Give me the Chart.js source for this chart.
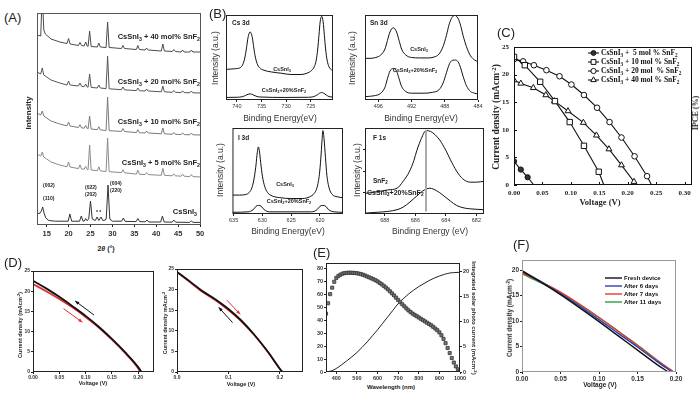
<!DOCTYPE html>
<html>
<head>
<meta charset="utf-8">
<title>CsSnI3 + SnF2</title>
<script src="https://cdn.jsdelivr.net/npm/chart.js@4.4.1/dist/chart.umd.min.js"></script>
<style>
  html, body { margin: 0; padding: 0; background: #fff; }
  body { position: relative; width: 700px; height: 395px; overflow: hidden; font-family: "Liberation Sans", Arial, sans-serif; color: #222; }
  canvas { position: absolute; }
  .t { position: absolute; white-space: nowrap; line-height: 1; }
  .t sub { font-size: 70%; vertical-align: -0.3em; line-height: 0; }
  .t sup { font-size: 70%; vertical-align: 0.5em; line-height: 0; }
  .serif { font-family: "Liberation Serif", "Times New Roman", serif; font-weight: bold; }
</style>
</head>
<body>
<script>
// ---------- (A) XRD ----------
const xrdTicks = [15, 20, 25, 30, 35, 40, 45, 50];
const xrdTickLabels = ['15', '20', '25', '30', '35', '40', '45', '50'];
const xrdNames = ['CsSnI_3 + 40 mol% SnF_2', 'CsSnI_3 + 20 mol% SnF_2', 'CsSnI_3 + 10 mol% SnF_2', 'CsSnI_3 + 5 mol% SnF_2', 'CsSnI_3'];
const xrd40 = [[12.8,190],[13.65,189],[14.0,232],[14.35,195],[14.7,191],[16,186],[18,183],
  [19.65,181.5],[20.0,186.5],[20.35,181],[22.25,179.5],[22.6,182.5],[22.95,179.5],
  [23.55,179],[23.9,183],[24.25,179],[24.45,178.5],[24.8,194],[25.15,178.5],
  [26.55,178],[26.9,182],[27.25,178],[28.55,177.5],[28.9,203],[29.25,177.5],
  [32.05,176.5],[32.4,179.5],[32.75,176.5],[35.45,175.5],[35.8,179.5],[36.15,175.5],
  [37.45,175],[37.8,177],[38.15,175],[41.15,174],[41.5,181],[41.85,174],
  [43.65,173.5],[44.0,175.5],[44.35,173.5],[45.65,173],[46.0,175],[46.35,173],
  [47.65,173],[48.0,175],[48.35,173],[50.2,173]];
const xrd20 = [[12.8,153],[13.65,151],[14.0,157],[14.35,150],[15,148],[16,145],[18,142],
  [19.65,140],[20.0,144],[20.35,140],[22.25,139],[22.6,142],[22.95,138.8],
  [23.55,138.3],[23.9,141],[24.25,138],[24.45,137.8],[24.8,151],[25.15,137.6],
  [26.55,137],[26.9,140],[27.25,137],[28.55,136.4],[28.9,169],[29.25,136.2],
  [32.05,135.3],[32.4,138],[32.75,135.2],[35.45,134.4],[35.8,137],[36.15,134.3],
  [37.45,134],[37.8,136],[38.15,134],[41.15,133.2],[41.5,139],[41.85,133.2],
  [43.65,132.7],[44.0,134.5],[44.35,132.7],[45.65,132.4],[46.0,134.2],[46.35,132.4],
  [47.65,132.2],[48.0,134],[48.35,132.2],[50.2,132]];
const xrd10 = [[12.8,112],[13.65,110],[14.0,114],[14.35,109],[15,107],[16,104],[18,101],
  [19.65,99.2],[20.0,103],[20.35,99],[22.25,97.5],[22.6,100.3],[22.95,97.2],
  [23.55,96.8],[23.9,99.6],[24.25,96.5],[24.45,96.2],[24.8,109],[25.15,96],
  [26.55,95.3],[26.9,98.2],[27.25,95.1],[28.55,94.5],[28.9,128],[29.25,94.3],
  [32.05,93.6],[32.4,96.5],[32.75,93.5],[35.45,92.4],[35.8,95.3],[36.15,92.3],
  [37.45,92],[37.8,94],[38.15,92],[41.15,91.2],[41.5,97],[41.85,91.2],
  [43.65,90.7],[44.0,92.5],[44.35,90.7],[45.65,90.4],[46.0,92.2],[46.35,90.4],
  [47.65,90.2],[48.0,92],[48.35,90.2],[50.2,90]];
const xrd5 = [[12.8,71],[13.65,69],[14.0,73],[14.35,68],[15,66],[16,63],[18,60],
  [19.65,58.2],[20.0,63],[20.35,58],[22.25,56.4],[22.6,60.2],[22.95,56.1],
  [23.55,55.8],[23.9,58.6],[24.25,55.5],[24.45,55.2],[24.8,80],[25.15,55],
  [26.55,54.3],[26.9,58.2],[27.25,54.1],[28.55,53.5],[28.9,87],[29.25,53.3],
  [32.05,52.4],[32.4,55.3],[32.75,52.2],[35.45,50.9],[35.8,54.8],[36.15,50.8],
  [37.45,50.4],[37.8,52.4],[38.15,50.4],[41.15,49.7],[41.5,56.7],[41.85,49.7],
  [43.65,49.2],[44.0,51.2],[44.35,49.2],[45.65,48.8],[46.0,50.8],[46.35,48.8],
  [47.65,48.4],[48.0,50.4],[48.35,48.4],[50.2,48]];
const xrdPure = [[12.8,11],[13.5,12],[13.8,14],[14.1,18],[14.4,12],[14.8,7],[15.5,4.5],[17,3.8],
  [19.9,3.8],[20.3,11],[20.7,3.8],[22.5,3.8],[22.9,9],[23.3,3.8],[23.6,4],[23.9,6.5],[24.2,4.3],
  [24.6,6],[25.0,24],[25.4,6],[26.1,4.5],[26.5,8],[26.9,4.5],[27.4,8],[27.8,4.5],[28.4,5],[28.6,7],
  [29.0,40],[29.4,6],[30,3.8],[32.1,3.8],[32.5,7],[32.9,3.6],[35.4,3.4],[35.8,6.5],[36.2,3.4],
  [37.5,3.2],[37.9,5],[38.3,3],[41.0,3],[41.4,9],[41.8,3],[43.6,2.8],[44,5],[44.4,2.8],
  [47.6,2.6],[48,4],[48.4,2.6],[50.2,2.6]];

// ---------- (B) XPS ----------
const cs3dTicks = [740, 735, 730, 725];
const sn3dTicks = [496, 492, 488, 484];
const i3dTicks = [635, 630, 625, 620];
const f1sTicks = [688, 686, 684, 682];
const cs3dPure = [[742.2,0.36],[741,0.365],[740,0.37],[739.2,0.385],[738.7,0.43],[738.3,0.52],[738.0,0.63],[737.75,0.73],[737.5,0.785],[737.3,0.80],[737.1,0.785],[736.85,0.73],[736.6,0.63],[736.3,0.52],[735.9,0.43],[735.4,0.38],[734.5,0.35],[733,0.33],[731,0.315],[729,0.30],[727,0.30],[725.8,0.315],[724.8,0.35],[724.3,0.39],[723.9,0.47],[723.6,0.60],[723.35,0.76],[723.1,0.92],[722.8,0.985],[722.5,0.92],[722.25,0.76],[722.0,0.60],[721.7,0.47],[721.3,0.39],[720.8,0.355],[720.5,0.35]];
const cs3dDoped = [[742.2,0.03],[740,0.032],[738.8,0.04],[738.2,0.055],[737.7,0.068],[737.3,0.072],[736.9,0.066],[736.3,0.05],[735.5,0.036],[730,0.03],[725.5,0.032],[724.4,0.04],[723.7,0.06],[723.2,0.08],[722.8,0.088],[722.4,0.08],[721.9,0.06],[721.3,0.04],[720.5,0.035]];
const sn3dPure = [[497.6,0.49],[497,0.49],[496.3,0.50],[495.7,0.53],[495.2,0.60],[494.9,0.70],[494.6,0.80],[494.2,0.85],[493.8,0.80],[493.5,0.70],[493.2,0.60],[492.7,0.53],[492,0.50],[491,0.495],[490,0.495],[489.3,0.505],[488.7,0.54],[488.2,0.63],[487.8,0.76],[487.5,0.88],[487.2,0.96],[486.8,0.995],[486.4,0.96],[486.1,0.88],[485.8,0.76],[485.4,0.63],[484.9,0.52],[484.4,0.47],[484,0.45]];
const sn3dDoped = [[497.6,0.04],[496.5,0.05],[495.7,0.08],[495.2,0.15],[494.9,0.25],[494.6,0.34],[494.2,0.37],[493.8,0.34],[493.5,0.25],[493.2,0.16],[492.7,0.10],[492,0.08],[490.5,0.08],[489.5,0.09],[488.7,0.12],[488.2,0.20],[487.8,0.32],[487.5,0.41],[487.2,0.46],[486.8,0.47],[486.4,0.45],[486.1,0.38],[485.8,0.28],[485.4,0.17],[484.9,0.10],[484.4,0.08],[484,0.07]];
const i3dPure = [[635.2,0.22],[634,0.22],[633,0.225],[632.3,0.25],[631.8,0.31],[631.4,0.43],[631.1,0.58],[630.9,0.71],[630.7,0.78],[630.5,0.72],[630.3,0.60],[630.0,0.44],[629.6,0.32],[629.1,0.25],[628.3,0.21],[627,0.19],[625,0.18],[623,0.18],[621.8,0.20],[621.0,0.24],[620.5,0.31],[620.1,0.46],[619.85,0.65],[619.65,0.85],[619.5,0.97],[619.3,0.88],[619.05,0.66],[618.8,0.45],[618.4,0.30],[617.9,0.23],[617,0.20],[616,0.19]];
const i3dDoped = [[635.2,0.02],[632.5,0.025],[631.6,0.05],[631.1,0.09],[630.7,0.10],[630.2,0.09],[629.7,0.05],[628.8,0.025],[621.5,0.025],[620.5,0.05],[620,0.09],[619.5,0.10],[619,0.09],[618.5,0.05],[617.5,0.025],[616,0.02]];
const f1sSnF2 = [[689.3,0.24],[688.8,0.25],[688.3,0.265],[687.8,0.28],[687.2,0.30],[686.8,0.38],[686.4,0.49],[686.1,0.62],[685.9,0.74],[685.6,0.88],[685.3,0.97],[685.0,0.96],[684.7,0.92],[684.4,0.86],[684.0,0.74],[683.7,0.63],[683.3,0.50],[682.9,0.41],[682.4,0.37],[682.0,0.37],[681.5,0.38]];
const f1sDoped = [[689.3,0.01],[688.5,0.02],[687.8,0.03],[687.2,0.05],[686.8,0.08],[686.35,0.14],[685.9,0.21],[685.5,0.27],[685.05,0.30],[684.6,0.27],[684.2,0.22],[683.7,0.15],[683.3,0.10],[682.8,0.07],[682.4,0.06],[681.5,0.05]];
const f1sRef = [[685.3,0.03],[685.3,0.98]];

// ---------- (C) J-V vs SnF2 content ----------
const cNames = ['CsSnI_3 +  5 mol % SnF_2', 'CsSnI_3 + 10 mol % SnF_2', 'CsSnI_3 + 20 mol  % SnF_2', 'CsSnI_3 + 40 mol % SnF_2'];
const cVoltTicks = [0, 0.05, 0.10, 0.15, 0.20, 0.25, 0.30];
const cVoltLabels = ['0.00', '0.05', '0.10', '0.15', '0.20', '0.25', '0.30'];
const jTicks = [0, 5, 10, 15, 20, 25];
const jLabels = ['0', '5', '10', '15', '20', '25'];
const c5 = [[0,4.3],[0.012,2.8],[0.024,1.4],[0.035,0]];
const c10 = [[0,23.2],[0.019,21.7],[0.046,18.7],[0.072,15.2],[0.098,11.4],[0.123,7.1],[0.149,2.4],[0.158,0]];
const c20 = [[0,22.8],[0.016,22.4],[0.035,21.7],[0.057,20.8],[0.08,19.7],[0.101,18.2],[0.123,16.3],[0.146,14.0],[0.168,11.4],[0.189,8.6],[0.212,5.2],[0.234,1.6],[0.242,0]];
const c40 = [[0,19.0],[0.012,18.4],[0.034,17.6],[0.056,16.3],[0.071,15.2],[0.095,13.4],[0.122,11.3],[0.145,9.0],[0.167,6.5],[0.189,3.6],[0.211,0.6],[0.213,0]];

// ---------- (D) hysteresis ----------
const dTicks1 = [0, 0.05, 0.10, 0.15, 0.20];
const dLabels1 = ['0.00', '0.05', '0.10', '0.15', '0.20'];
const dTicks2 = [0, 0.1, 0.2];
const dLabels2 = ['0.0', '0.1', '0.2'];
const d1Reverse = [[0,22.6],[0.025,20.7],[0.05,18.6],[0.075,16.3],[0.1,13.9],[0.125,11.2],[0.15,8.2],[0.175,4.9],[0.2,1.2],[0.206,0]];
const d1Forward = [[0,21.8],[0.025,20.0],[0.05,18.1],[0.075,16.0],[0.1,13.6],[0.125,11.0],[0.15,8.0],[0.175,4.7],[0.2,0.9],[0.204,0]];
const d2Reverse = [[0,24.3],[0.025,22.0],[0.05,19.6],[0.075,17.6],[0.1,15.3],[0.125,12.5],[0.15,9.1],[0.175,5.2],[0.2,0.8],[0.205,0]];
const d2Forward = [[0,24.2],[0.025,21.8],[0.05,19.4],[0.075,17.4],[0.1,15.0],[0.125,12.3],[0.15,9.0],[0.175,5.1],[0.2,0.7],[0.204,0]];
const d1Arrows = [{ from: [0.116, 14.1], to: [0.08, 17.6], color: '#111' }, { from: [0.058, 15.7], to: [0.094, 12.3], color: '#e03030' }];
const d2Arrows = [{ from: [0.097, 17.45], to: [0.123, 14.0], color: '#e03030' }, { from: [0.108, 12.0], to: [0.081, 15.7], color: '#111' }];

// ---------- (E) IPCE ----------
const eWaveTicks = [400, 500, 600, 700, 800, 900, 1000];
const eWaveLabels = ['400', '500', '600', '700', '800', '900', '1000'];
const ipceTicks = [0, 10, 20, 30, 40, 50, 60, 70, 80];
const ipceLabels = ['0', '10', '20', '30', '40', '50', '60', '70', '80'];
const jscTicks = [0, 5, 10, 15, 20];
const jscLabels = ['0', '5', '10', '15', '20'];
const ipceWave = [350,360,370,380,390,400,410,420,430,440,450,460,470,480,490,500,510,520,530,540,550,560,570,580,590,600,610,620,630,640,650,660,670,680,690,700,710,720,730,740,750,760,770,780,790,800,810,820,830,840,850,860,870,880,890,900,910,920,930,940,950,960,970,980,990,1000];
const ipceVals = [45,53,60,65,69.5,72.5,74,75,75.8,76.2,76.4,76.5,76.5,76.4,76.3,76.1,75.8,75.4,74.9,74.3,73.6,72.9,72.2,71.5,70.7,69.8,68.7,67.6,66.4,65.1,63.7,62.2,60.6,59,57.3,55.5,53.8,52.2,50.6,49.0,47.5,46.2,45,44,43,42,41,40,39,38,37,36,34.8,33.5,32.2,30.5,28.3,25.5,22.2,18.5,14.6,10.8,7.3,4.3,2.0,0.6];
const jscWave = [350,375,400,425,450,475,500,525,550,575,600,625,650,675,700,725,750,775,800,825,850,875,900,925,950,975,1000];
const jscVals = [0,0.2,0.7,1.4,2.2,3.0,3.9,4.9,6.0,7.2,8.4,9.7,11.0,12.3,13.6,14.6,15.5,16.3,17.0,17.6,18.2,18.7,19.1,19.45,19.7,19.8,19.85];

// ---------- (F) stability ----------
const fNames = ['Fresh device', 'After 6 days', 'After 7 days', 'After 11 days'];
const fColors = ['#111111', '#2b3fb5', '#e8392b', '#2e9e44'];
const fTicks = [0, 5, 10, 15, 20];
const fLabels = ['0', '5', '10', '15', '20'];
const fFresh = [[0,19.8],[0.025,17.6],[0.05,15.2],[0.075,12.6],[0.1,9.9],[0.125,7.1],[0.15,4.3],[0.175,1.5],[0.19,0]];
const f6 = [[0,19.9],[0.025,17.7],[0.05,15.4],[0.075,12.9],[0.1,10.3],[0.125,7.6],[0.15,4.9],[0.175,2.1],[0.195,0]];
const f7 = [[0,19.5],[0.025,17.7],[0.05,15.7],[0.075,13.3],[0.1,10.7],[0.125,8.0],[0.15,5.2],[0.175,2.3],[0.197,0]];
const f11 = [[0,19.3],[0.025,17.5],[0.05,15.5],[0.075,13.2],[0.1,10.7],[0.125,8.0],[0.15,5.3],[0.175,2.4],[0.197,0]];

const SANS = '"Liberation Sans", Arial, sans-serif';
const SERIF = '"Liberation Serif", "Times New Roman", serif';

// box around every plot area (+ optional inward ticks)
Chart.register({
  id: 'frame',
  afterDatasetsDraw(chart, args, o) {
    const { ctx, chartArea: a } = chart;
    ctx.save();
    ctx.strokeStyle = o.color || '#111';
    ctx.lineWidth = 1;
    ctx.strokeRect(a.left + 0.5, a.top + 0.5, a.right - a.left - 1, a.bottom - a.top - 1);
    if (o.inward) {
      const sx = chart.scales.x, sy = chart.scales.y;
      ctx.beginPath();
      sx.ticks.forEach(t => { const p = Math.round(sx.getPixelForValue(t.value)) + 0.5; ctx.moveTo(p, a.bottom); ctx.lineTo(p, a.bottom - o.inward); });
      sy.ticks.forEach(t => { const p = Math.round(sy.getPixelForValue(t.value)) + 0.5; ctx.moveTo(a.left, p); ctx.lineTo(a.left + o.inward, p); });
      ctx.stroke();
    }
    ctx.restore();
  }
});

const pts = d => d.map(([x, y]) => ({ x, y }));
const sub = s => s.replace(/_(\d)/g, '<sub>$1</sub>');

function line(data, color, extra) {
  return Object.assign({ data: pts(data), borderColor: color, borderWidth: 1, pointRadius: 0 }, extra || {});
}
function smooth(data, color, w) {
  return line(data, color, { borderWidth: w || 1, cubicInterpolationMode: 'monotone' });
}

function axis(id, a, size, o) {
  const horiz = id === 'x';
  const s = {
    type: 'linear',
    position: horiz ? 'bottom' : (id === 'y2' ? 'right' : 'left'),
    min: a.min, max: a.max, reverse: !!a.reverse,
    afterFit: sc => { if (horiz) sc.height = size; else sc.width = size; },
    border: { display: false },
    grid: { display: !!a.ticks && !a.noMarks, drawOnChartArea: false, drawTicks: true, tickLength: a.tickLen ?? 2, color: o.tickColor || '#222' },
    ticks: {
      display: !!a.labels, autoSkip: false, maxRotation: 0, minRotation: 0, padding: a.pad ?? 2,
      color: o.tickText || '#222',
      font: { family: o.family || SANS, size: o.size || 7, weight: o.weight || 'bold' }
    }
  };
  if (a.ticks) {
    s.afterBuildTicks = sc => { sc.ticks = a.ticks.map(v => ({ value: v })); };
    s.ticks.callback = (v, i) => (a.labels ? a.labels[i] : '');
  }
  return s;
}

function panel(box, pad, datasets, o) {
  const c = document.createElement('canvas');
  const w = box.r - box.l + pad.l + pad.r, h = box.b - box.t + pad.t + pad.b;
  c.width = w; c.height = h;
  Object.assign(c.style, { left: (box.l - pad.l) + 'px', top: (box.t - pad.t) + 'px', width: w + 'px', height: h + 'px' });
  document.body.appendChild(c);
  const scales = { x: axis('x', o.x, pad.b, o), y: axis('y', o.y, pad.l, o) };
  if (o.y2) scales.y2 = axis('y2', o.y2, pad.r, o);
  return new Chart(c, {
    type: 'line',
    data: { datasets },
    plugins: o.extra || [],
    options: {
      responsive: false, animation: false, devicePixelRatio: 1,
      layout: { padding: { left: 0, top: pad.t, right: o.y2 ? 0 : pad.r, bottom: 0 } },
      plugins: { legend: { display: false }, tooltip: { enabled: false }, frame: o.frame || {} },
      elements: { point: { radius: 0 }, line: { borderWidth: 1, tension: 0 } },
      scales
    }
  });
}

function T(html, x, y, css, anchor, cls) {
  const d = document.createElement('div');
  d.className = 't' + (cls ? ' ' + cls : '');
  d.innerHTML = html;
  const tr = { l: 'translate(0,-50%)', c: 'translate(-50%,-50%)', r: 'translate(-100%,-50%)',
    up: 'translate(-50%,-50%) rotate(-90deg)', down: 'translate(-50%,-50%) rotate(90deg)' };
  d.style.cssText = `left:${x}px;top:${y}px;transform:${tr[anchor || 'l']};` + (css || '');
  document.body.appendChild(d);
  return d;
}

function rich(ctx, s, x, y, size, family, weight) {
  s.split(/(_\d)/).forEach(p => {
    if (!p) return;
    const isSub = p[0] === '_';
    const txt = isSub ? p.slice(1) : p;
    const fs = isSub ? size * 0.7 : size;
    ctx.font = `${weight} ${fs}px ${family}`;
    ctx.fillText(txt, x, y + (isSub ? size * 0.3 : 0));
    x += ctx.measureText(txt).width;
  });
}

function mark(ctx, style, x, y, r, fill) {
  ctx.beginPath();
  if (style === 'circle') ctx.arc(x, y, r, 0, Math.PI * 2);
  else if (style === 'rect') { const s = r * Math.SQRT1_2; ctx.rect(x - s, y - s, 2 * s, 2 * s); }
  else { ctx.moveTo(x, y - r); ctx.lineTo(x + r * 0.87, y + r * 0.5); ctx.lineTo(x - r * 0.87, y + r * 0.5); ctx.closePath(); }
  ctx.fillStyle = fill; ctx.fill(); ctx.stroke();
}

function legendBox(items, L) {
  return {
    id: 'legendBox',
    afterDraw(chart) {
      const { ctx, chartArea: a } = chart;
      ctx.save();
      items.forEach((it, i) => {
        const y = a.top + L.y + i * L.dy, x0 = a.left + L.x;
        ctx.strokeStyle = it.color; ctx.lineWidth = L.lw;
        ctx.beginPath(); ctx.moveTo(x0, y); ctx.lineTo(x0 + L.len, y); ctx.stroke();
        ctx.lineWidth = 1;
        if (it.marker) mark(ctx, it.marker, x0 + L.len / 2, y, it.r, it.fill);
        ctx.fillStyle = '#111'; ctx.textBaseline = 'middle';
        rich(ctx, it.text, x0 + L.len + L.gap, y, L.size, L.family, 'bold');
      });
      ctx.restore();
    }
  };
}

function arrows(items) {
  return {
    id: 'arrows',
    afterDatasetsDraw(chart) {
      const { ctx, scales: { x, y } } = chart;
      items.forEach(it => {
        const x0 = x.getPixelForValue(it.from[0]), y0 = y.getPixelForValue(it.from[1]);
        const x1 = x.getPixelForValue(it.to[0]), y1 = y.getPixelForValue(it.to[1]);
        const ang = Math.atan2(y1 - y0, x1 - x0), hl = 4.5;
        ctx.save();
        ctx.strokeStyle = ctx.fillStyle = it.color; ctx.lineWidth = 1;
        ctx.beginPath(); ctx.moveTo(x0, y0); ctx.lineTo(x1, y1); ctx.stroke();
        ctx.beginPath(); ctx.moveTo(x1, y1);
        ctx.lineTo(x1 - hl * Math.cos(ang - 0.38), y1 - hl * Math.sin(ang - 0.38));
        ctx.lineTo(x1 - hl * Math.cos(ang + 0.38), y1 - hl * Math.sin(ang + 0.38));
        ctx.closePath(); ctx.fill();
        ctx.restore();
      });
    }
  };
}

// ===== (A) =====
panel({ l: 37, t: 13, r: 201, b: 225 }, { l: 6, t: 4, r: 10, b: 16 }, [
  line(xrd40, '#4a4a4a'), line(xrd20, '#555'), line(xrd10, '#7a7a7a'), line(xrd5, '#8a8a8a'), line(xrdPure, '#333')
], { x: { min: 12.8, max: 50.2, ticks: xrdTicks, labels: xrdTickLabels, tickLen: 2, pad: 2 }, y: { min: 0, max: 212 },
     size: 7.5, tickText: '#333', frame: { color: '#555' } });

T('(A)', 4, 17, 'font-size:13px');
T('Intensity', 29, 113, 'font-size:8px;font-weight:bold', 'up');
T('2<i>θ</i> (°)', 106, 248, 'font-size:7px;font-weight:bold', 'c');
[37, 82, 122, 163].forEach((y, i) => T(sub(xrdNames[i]), 200, y, 'font-size:7.5px;font-weight:bold', 'r'));
T(sub(xrdNames[4]), 197, 212, 'font-size:7.5px;font-weight:bold', 'r');
T('(002)', 43, 185, 'font-size:5px;font-weight:bold');
T('(110)', 43, 198, 'font-size:5px;font-weight:bold');
T('(022)', 85, 187, 'font-size:5px;font-weight:bold');
T('(202)', 85, 194, 'font-size:5px;font-weight:bold');
T('(004)', 110, 183, 'font-size:5px;font-weight:bold');
T('(220)', 110, 190, 'font-size:5px;font-weight:bold');
T('*&nbsp;*', 96, 212, 'font-size:5px;font-weight:bold');

// ===== (B) =====
const bOpt = (min, max, ticks) => ({ x: { min, max, reverse: true, ticks, labels: ticks.map(String), tickLen: 2, pad: 1 },
  y: { min: 0, max: 1 }, size: 5.5, weight: 'normal', tickText: '#333', frame: { color: '#222' } });
panel({ l: 226, t: 15, r: 333, b: 100 }, { l: 4, t: 2, r: 6, b: 12 },
  [smooth(cs3dPure, '#111'), smooth(cs3dDoped, '#111')], bOpt(720.5, 742.2, cs3dTicks));
panel({ l: 365, t: 15, r: 478, b: 100 }, { l: 4, t: 2, r: 8, b: 12 },
  [smooth(sn3dPure, '#111'), smooth(sn3dDoped, '#111')], bOpt(484, 497.6, sn3dTicks));
panel({ l: 232, t: 128, r: 343, b: 214 }, { l: 4, t: 2, r: 6, b: 12 },
  [smooth(i3dPure, '#111'), smooth(i3dDoped, '#111')], bOpt(616, 635.2, i3dTicks));
const b4 = bOpt(681.5, 689.3, f1sTicks);
b4.y.ticks = [0.25, 0.5, 0.75];
panel({ l: 365, t: 128, r: 484, b: 214 }, { l: 4, t: 2, r: 6, b: 12 },
  [line(f1sRef, '#aaa', { borderWidth: 2 }), smooth(f1sSnF2, '#111'), smooth(f1sDoped, '#111')], b4);

T('(B)', 209, 13, 'font-size:13px');
[[215, 58], [352, 58], [220, 170], [357, 170]].forEach(([x, y]) => T('Intensity (a.u.)', x, y, 'font-size:8.5px;color:#333', 'up'));
T('Binding Energy(eV)', 280, 118, 'font-size:8.5px;color:#333', 'c');
T('Binding Energy(eV)', 421, 118, 'font-size:8.5px;color:#333', 'c');
T('Binding Energy(eV)', 288, 231, 'font-size:8.5px;color:#333', 'c');
T('Binding Energy (eV)', 430, 231, 'font-size:8.5px;color:#333', 'c');
T('Cs 3d', 232, 23, 'font-size:6.5px;font-weight:bold');
T('Sn 3d', 370, 23, 'font-size:6.5px;font-weight:bold');
T('I 3d', 238, 138, 'font-size:6.5px;font-weight:bold');
T('F 1s', 373, 138, 'font-size:6.5px;font-weight:bold');
T(sub('CsSnI_3'), 282, 70, 'font-size:5.5px;font-weight:bold', 'c');
T(sub('CsSnI_3+20%SnF_2'), 284, 91, 'font-size:5.5px;font-weight:bold', 'c');
T(sub('CsSnI_3'), 419, 50, 'font-size:5.5px;font-weight:bold', 'c');
T(sub('CsSnI_3+20%SnF_2'), 415, 71, 'font-size:5.5px;font-weight:bold', 'c');
T(sub('CsSnI_3'), 285, 185, 'font-size:5.5px;font-weight:bold', 'c');
T(sub('CsSnI_3+20%SnF_2'), 289, 202, 'font-size:5.5px;font-weight:bold', 'c');
T(sub('SnF_2'), 373, 181, 'font-size:6.5px;font-weight:bold');
T(sub('CsSnI_3+20%SnF_2'), 367, 192, 'font-size:7px;font-weight:bold');

// ===== (C) =====
const cMarkers = (data, style, r, fill) => ({
  data: pts(data), borderColor: '#111', borderWidth: 1.1, pointStyle: style, pointBorderColor: '#111',
  pointBackgroundColor: fill, pointBorderWidth: 1, pointRadius: c => (c.dataIndex === data.length - 1 ? 0 : r)
});
panel({ l: 514, t: 47, r: 692, b: 185 }, { l: 22, t: 8, r: 6, b: 14 }, [
  cMarkers(c5, 'circle', 2.6, '#333'), cMarkers(c10, 'rect', 3.8, '#fff'),
  cMarkers(c20, 'circle', 2.8, '#fff'), cMarkers(c40, 'triangle', 3.4, '#fff')
], {
  x: { min: 0, max: 0.313, ticks: cVoltTicks, labels: cVoltLabels, noMarks: true, pad: 2 },
  y: { min: 0, max: 25, ticks: jTicks, labels: jLabels, noMarks: true, pad: 3 },
  family: SERIF, size: 7, frame: { color: '#111', inward: 3 },
  extra: [legendBox([
    { text: cNames[0], color: '#111', marker: 'circle', r: 2.4, fill: '#333' },
    { text: cNames[1], color: '#111', marker: 'rect', r: 3.4, fill: '#fff' },
    { text: cNames[2], color: '#111', marker: 'circle', r: 2.6, fill: '#fff' },
    { text: cNames[3], color: '#111', marker: 'triangle', r: 3.2, fill: '#fff' }
  ], { x: 74, y: 6, dy: 9, len: 11, gap: 2, lw: 1.1, size: 7.5, family: SERIF })]
});
T('(C)', 497, 32, 'font-size:13px');
T('Current density (mAcm<sup>-2</sup>)', 497, 117, 'font-size:9.5px', 'up', 'serif');
T('IPCE (%)', 696, 113, 'font-size:8px', 'up', 'serif');
T('Voltage (V)', 600, 202, 'font-size:8.5px', 'c', 'serif');

// ===== (D) =====
const dOpt = (max, ticks, labels, arr) => ({
  x: { min: 0, max, ticks, labels, tickLen: 2, pad: 1 },
  y: { min: 0, max: 25, ticks: jTicks, labels: jLabels, tickLen: 2, pad: 1 },
  size: 5, tickText: '#333', frame: { color: '#222' }, extra: [arrows(arr)]
});
panel({ l: 33, t: 271, r: 154, b: 372 }, { l: 12, t: 6, r: 8, b: 10 },
  [smooth(d1Reverse, '#111', 1.8), smooth(d1Forward, '#e03030', 1.8)], dOpt(0.23, dTicks1, dLabels1, d1Arrows));
panel({ l: 177, t: 269, r: 303, b: 372 }, { l: 12, t: 6, r: 8, b: 10 },
  [smooth(d2Reverse, '#111', 1.8), smooth(d2Forward, '#e03030', 1.6)], dOpt(0.245, dTicks2, dLabels2, d2Arrows));
T('(D)', 4, 262, 'font-size:13px');
T('Current density (mAcm<sup>-2</sup>)', 21, 325, 'font-size:5.5px;font-weight:bold', 'up');
T('Voltage (V)', 93, 384, 'font-size:5.5px;font-weight:bold', 'c');
T('Current density mAcm<sup>-2</sup>', 166, 323, 'font-size:5.5px;font-weight:bold', 'up');
T('Voltage (V)', 241, 385, 'font-size:5.5px;font-weight:bold', 'c');

// ===== (E) =====
panel({ l: 326, t: 263, r: 460, b: 372 }, { l: 14, t: 7, r: 14, b: 12 }, [
  { data: ipceWave.map((w, i) => ({ x: w, y: ipceVals[i] })), showLine: false, pointStyle: 'rect', pointRadius: 2.2,
    pointBackgroundColor: '#777', pointBorderColor: '#333', pointBorderWidth: 0.8, yAxisID: 'y' },
  { data: jscWave.map((w, i) => ({ x: w, y: jscVals[i] })), borderColor: '#222', borderWidth: 1, pointRadius: 0,
    cubicInterpolationMode: 'monotone', yAxisID: 'y2' }
], {
  x: { min: 350, max: 1000, ticks: eWaveTicks, labels: eWaveLabels, tickLen: 2, pad: 1 },
  y: { min: 0, max: 84, ticks: ipceTicks, labels: ipceLabels, tickLen: 2, pad: 1 },
  y2: { min: 0, max: 21.7, ticks: jscTicks, labels: jscLabels, tickLen: 2, pad: 1 },
  size: 5.5, tickText: '#333', frame: { color: '#222' }
});
T('(E)', 313, 252, 'font-size:13px');
T('Wavelength (nm)', 391, 387, 'font-size:6px;font-weight:bold', 'c');
T('Integrated solar photo current (mAcm<sup>-2</sup>)', 474, 318, 'font-size:6px;font-weight:bold', 'down');

// ===== (F) =====
panel({ l: 522, t: 260, r: 676, b: 372 }, { l: 12, t: 7, r: 10, b: 12 }, [
  smooth(fFresh, fColors[0], 1.4), smooth(f6, fColors[1], 1.4), smooth(f7, fColors[2], 1.4), smooth(f11, fColors[3], 1.4)
], {
  x: { min: 0, max: 0.20, ticks: dTicks1, labels: dLabels1, tickLen: 2, pad: 1 },
  y: { min: 0, max: 22, ticks: fTicks, labels: fLabels, tickLen: 2, pad: 1 },
  size: 6.5, tickText: '#333', frame: { color: '#999' },
  extra: [legendBox(fNames.map((n, i) => ({ text: n, color: fColors[i] })),
    { x: 83, y: 18, dy: 8, len: 17, gap: 2, lw: 1.4, size: 6, family: SANS })]
});
T('(F)', 513, 244, 'font-size:13px');
T('Current density (mAcm<sup>-2</sup>)', 510, 318, 'font-size:6.5px;font-weight:bold', 'up');
T('Voltage (V)', 600, 385, 'font-size:6.5px;font-weight:bold', 'c');
</script>
</body>
</html>
